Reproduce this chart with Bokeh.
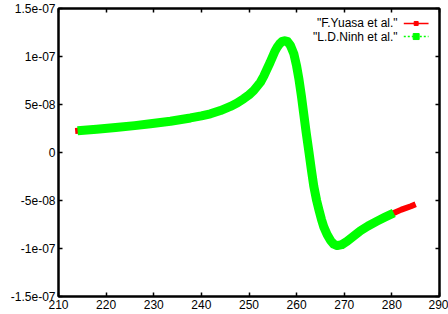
from bokeh.plotting import figure
from bokeh.models import LinearAxis, FixedTicker, Range1d, ColumnDataSource
from bokeh.embed import file_html
from bokeh.resources import INLINE
from bokeh.core.properties import value

# ---- data ----
x_ticks = [210, 220, 230, 240, 250, 260, 270, 280, 290]
y_ticks = [-1.5e-07, -1e-07, -5e-08, 0.0, 5e-08, 1e-07, 1.5e-07]
y_tick_labels = ["-1.5e-07", "-1e-07", "-5e-08", "0", "5e-08", "1e-07", "1.5e-07"]

series_names = ['"F.Yuasa et al."', '"L.D.Ninh et al."']
series_colors = ["#ff0000", "#00ff00"]

yuasa_x = [213.5, 218, 222, 226, 229.3, 233.5, 237.7, 240, 241.9, 244, 246.1, 247.5,
           248.9, 250, 251, 252.4, 253.1, 253.8, 254.4, 254.9, 255.4, 255.9, 256.4,
           256.9, 257.5, 258.1, 258.7, 259.4, 260, 260.5, 261, 261.5, 262, 262.6,
           263.1, 263.6, 264.2, 264.7, 265.2, 265.7, 266.4, 267.1, 267.8, 268.5,
           269.5, 270.6, 272, 273.4, 275, 276.9, 278.5, 280.4, 282, 284, 285]
yuasa_y = [2.24e-08, 2.43e-08, 2.6e-08, 2.8e-08, 3.0e-08, 3.26e-08, 3.6e-08, 3.82e-08,
           4.03e-08, 4.37e-08, 4.8e-08, 5.15e-08, 5.6e-08, 6.0e-08, 6.46e-08, 7.32e-08,
           7.95e-08, 8.72e-08, 9.35e-08, 9.93e-08, 1.05e-07, 1.095e-07, 1.13e-07,
           1.155e-07, 1.165e-07, 1.155e-07, 1.115e-07, 1.03e-07, 9.0e-08, 7.6e-08,
           5.9e-08, 4.0e-08, 2.1e-08, 0.0, -1.8e-08, -3.5e-08, -5.0e-08, -6.0e-08,
           -6.95e-08, -7.75e-08, -8.55e-08, -9.15e-08, -9.55e-08, -9.7e-08, -9.6e-08,
           -9.25e-08, -8.7e-08, -8.15e-08, -7.65e-08, -7.15e-08, -6.75e-08, -6.3e-08,
           -5.95e-08, -5.6e-08, -5.4e-08]

ninh_x = [214.0, 218, 222, 226, 229.3, 233.5, 237.7, 240, 241.9, 244, 246.1, 247.5,
          248.9, 250, 251, 252.4, 253.1, 253.8, 254.4, 254.9, 255.4, 255.9, 256.4,
          256.9, 257.5, 258.1, 258.7, 259.4, 260, 260.5, 261, 261.5, 262, 262.6,
          263.1, 263.6, 264.2, 264.7, 265.2, 265.7, 266.4, 267.1, 267.8, 268.5,
          269.5, 270.6, 272, 273.4, 275, 276.9, 278.5, 280.4]
ninh_y = [2.26e-08, 2.43e-08, 2.6e-08, 2.8e-08, 3.0e-08, 3.26e-08, 3.6e-08, 3.82e-08,
          4.03e-08, 4.37e-08, 4.8e-08, 5.15e-08, 5.6e-08, 6.0e-08, 6.46e-08, 7.32e-08,
          7.95e-08, 8.72e-08, 9.35e-08, 9.93e-08, 1.05e-07, 1.095e-07, 1.13e-07,
          1.155e-07, 1.165e-07, 1.155e-07, 1.115e-07, 1.03e-07, 9.0e-08, 7.6e-08,
          5.9e-08, 4.0e-08, 2.1e-08, 0.0, -1.8e-08, -3.5e-08, -5.0e-08, -6.0e-08,
          -6.95e-08, -7.75e-08, -8.55e-08, -9.15e-08, -9.55e-08, -9.7e-08, -9.6e-08,
          -9.25e-08, -8.7e-08, -8.15e-08, -7.65e-08, -7.15e-08, -6.75e-08, -6.3e-08]

FONT = "Liberation Sans"

p = figure(width=448, height=314, output_backend="svg", toolbar_location=None,
           x_range=Range1d(210, 290), y_range=Range1d(-1.5e-07, 1.5e-07),
           x_axis_location=None, y_axis_location=None,
           min_border_left=58, min_border_right=9, min_border_top=8, min_border_bottom=18)
p.grid.visible = False
p.outline_line_color = "black"
p.outline_line_width = 2
p.background_fill_color = "white"
p.border_fill_color = "white"


def make_axis(side, ticks, labels=None):
    ax = LinearAxis(ticker=FixedTicker(ticks=ticks))
    ax.axis_line_color = "black"
    ax.axis_line_width = 2
    ax.major_tick_in = 4
    ax.major_tick_out = 0
    ax.major_tick_line_width = 1.5
    ax.minor_tick_line_color = None
    ax.major_label_text_font = FONT
    ax.major_label_text_font_size = "12px"
    ax.major_label_text_color = "black"
    ax.major_label_standoff = 3
    if labels is not None:
        ax.major_label_overrides = dict(zip(ticks, labels))
    if side in ("above", "right"):
        ax.major_label_text_color = None
        ax.major_label_text_font_size = "1px"
        ax.major_label_standoff = 0
    p.add_layout(ax, side)
    return ax


make_axis("below", x_ticks)
make_axis("left", y_ticks, y_tick_labels)
make_axis("above", x_ticks)
make_axis("right", y_ticks)

# curves
p.line(yuasa_x, yuasa_y, line_color=series_colors[0], line_width=6, line_join="round")
p.line(ninh_x, ninh_y, line_color=series_colors[1], line_width=9, line_join="round")

# legend (gnuplot style: text then sample)
leg_y = [1.344e-07, 1.208e-07]
src = ColumnDataSource(dict(x=[281.2, 281.2], y=leg_y, t=series_names))
p.text(x="x", y="y", text="t", source=src, text_align="right", text_baseline="middle",
       text_font=value(FONT), text_font_size="12px", text_color="black")
p.segment(x0=[282.5], y0=[leg_y[0]], x1=[287.7], y1=[leg_y[0]],
          line_color=series_colors[0], line_width=1.5)
p.scatter(x=[285.1], y=[leg_y[0]], marker="square", size=4,
          fill_color=series_colors[0], line_color=series_colors[0])
p.segment(x0=[282.5], y0=[leg_y[1]], x1=[287.7], y1=[leg_y[1]],
          line_color=series_colors[1], line_width=1.5, line_dash="2 2")
p.scatter(x=[285.1], y=[leg_y[1]], marker="square", size=6,
          fill_color=series_colors[1], line_color=series_colors[1])

open("out.html", "w").write(file_html(p, INLINE))
